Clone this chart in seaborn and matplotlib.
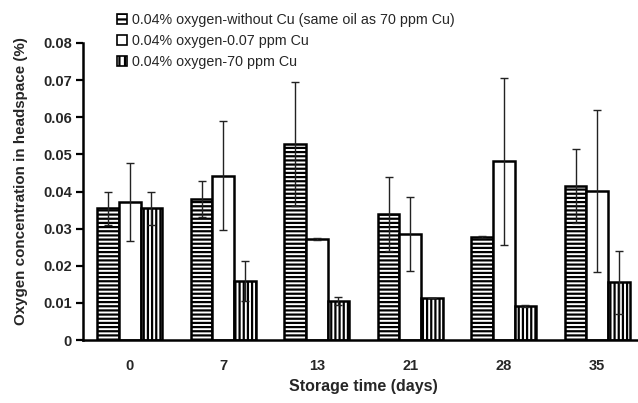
import matplotlib
matplotlib.use("Agg")
import matplotlib.pyplot as plt
import seaborn as sns
import pandas as pd
import numpy as np
from matplotlib.patches import Patch

days = ["0", "7", "13", "21", "28", "35"]
series = [
    "0.04% oxygen-without Cu (same oil as 70 ppm Cu)",
    "0.04% oxygen-0.07 ppm Cu",
    "0.04% oxygen-70 ppm Cu",
]
without_cu = [0.0355, 0.0379, 0.0528, 0.0340, 0.0277, 0.0415]
cu_007 = [0.0373, 0.0443, 0.0272, 0.0285, 0.0482, 0.0402]
cu_70 = [0.0355, 0.0159, 0.0105, 0.0114, 0.0092, 0.0156]
err_without_cu = [0.0045, 0.0048, 0.0168, 0.0100, 0.0002, 0.0100]
err_cu_007 = [0.0105, 0.0146, 0.0002, 0.0100, 0.0225, 0.0218]
err_cu_70 = [0.0045, 0.0053, 0.0010, 0.0000, 0.0002, 0.0085]
yticks = [0, 0.01, 0.02, 0.03, 0.04, 0.05, 0.06, 0.07, 0.08]
ytick_labels = ["0", "0.01", "0.02", "0.03", "0.04", "0.05", "0.06", "0.07", "0.08"]

values = [without_cu, cu_007, cu_70]
errors = [err_without_cu, err_cu_007, err_cu_70]
df = pd.DataFrame({
    "day": days * 3,
    "series": [s for s in series for _ in days],
    "value": without_cu + cu_007 + cu_70,
})

sns.set_style("white")
plt.rcParams["font.family"] = ["Liberation Sans", "DejaVu Sans"]
plt.rcParams["hatch.linewidth"] = 1.6

W, H = 638, 403
fig = plt.figure(figsize=(W / 100, H / 100), dpi=100)
ax = fig.add_axes([83 / W, 63 / H, 561 / W, 297 / H])

sns.barplot(data=df, x="day", y="value", hue="series", order=days,
            hue_order=series, palette=["white"] * 3, errorbar=None,
            width=0.695, edgecolor="black", linewidth=1.8, ax=ax, legend=False)

hatches = ["----", "", "||||"]
for cont, h, err in zip(ax.containers, hatches, errors):
    xs, ys = [], []
    for p in cont.patches:
        p.set_hatch(h)
        p.set_facecolor("white")
        p.set_edgecolor("black")
        xs.append(p.get_x() + p.get_width() / 2)
        ys.append(p.get_height())
    ax.errorbar(xs, ys, yerr=err, fmt="none", ecolor="#222222",
                elinewidth=1.0, capsize=2.8, capthick=1.0, zorder=5)

ax.set_xlim(-0.5, 5.5)
ax.set_ylim(0, 0.08)
ax.set_yticks(yticks)
ax.set_yticklabels(ytick_labels, fontsize=10.5, fontweight="bold")
ax.set_xticks(range(len(days)))
ax.set_xticklabels(days, fontsize=10.5, fontweight="bold")
ax.set_xticks(np.arange(-0.5, 6, 1.0), minor=True)
ax.tick_params(axis="x", which="major", length=0, pad=14)
ax.tick_params(axis="x", which="minor", length=10, direction="inout", width=1.6, color="black")
ax.tick_params(axis="y", which="major", length=5, direction="out", width=1.6, color="black", pad=3, left=True)
for s in ["top", "right"]:
    ax.spines[s].set_visible(False)
for s in ["left", "bottom"]:
    ax.spines[s].set_color("black")
    ax.spines[s].set_linewidth(1.8)
ax.set_xlabel("")
ax.set_ylabel("")
fig.text(21 / W, 1 - 181 / H, "Oxygen concentration in headspace (%)", rotation=90,
         ha="center", va="center", fontsize=10.9, fontweight="bold")
fig.text(363 / W, 1 - 386 / H, "Storage time (days)", ha="center", va="center",
         fontsize=11.5, fontweight="bold")

handles = [Patch(facecolor="white", edgecolor="black", hatch=h, linewidth=1.2) for h in ["---", "", "|||"]]
fig.legend(handles, series, loc="upper left", bbox_to_anchor=(114 / W, 1 - 10 / H),
           frameon=False, fontsize=10.3, handlelength=0.7, handleheight=0.7,
           handletextpad=0.35, labelspacing=0.5, borderaxespad=0, borderpad=0.2)

fig.savefig("out.png", dpi=100)
